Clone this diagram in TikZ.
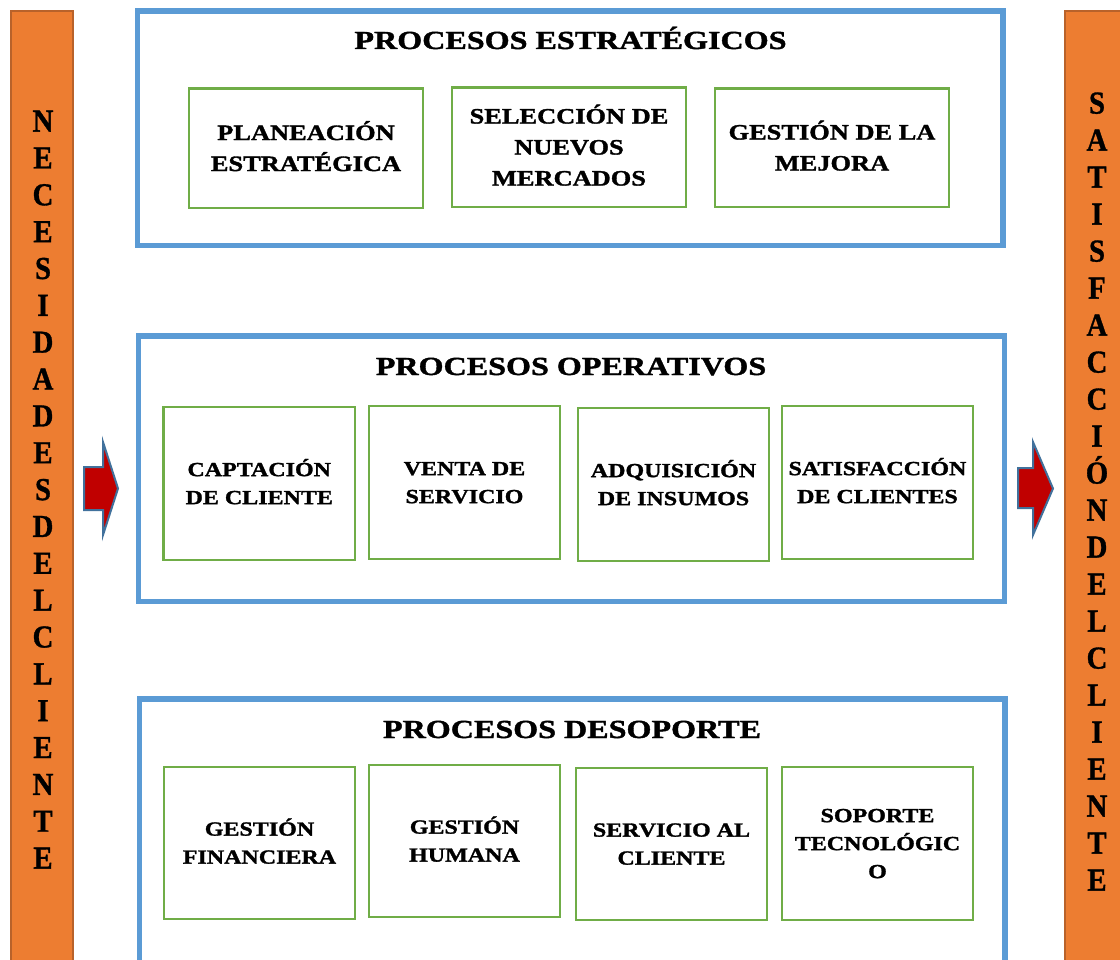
\documentclass[tikz,border=0pt]{standalone}
\usepackage{fontspec}
\newfontfamily\procfont{Liberation Serif Bold}[FakeStretch=1.2,FakeBold=1.5]
\newfontfamily\titlefont{Liberation Serif Bold}[FakeStretch=1.235,FakeBold=1.5]
\newfontfamily\sidefont{Liberation Serif Bold}[FakeStretch=0.9,FakeBold=1]
\definecolor{barorange}{HTML}{ED7D31}
\definecolor{baredge}{HTML}{B9622A}
\definecolor{frameblue}{HTML}{5B9BD5}
\definecolor{boxgreen}{HTML}{70AD47}
\definecolor{arrowred}{HTML}{C00000}
\definecolor{arrowedge}{HTML}{41719C}
% invisible rules that balance a text block around its capital letters
\newcommand\topstrut{\rule{0pt}{1.1em}}
\newcommand\botstrut{\rule[-0.438em]{0pt}{0.438em}}
\begin{document}
\begin{tikzpicture}[x=1pt,y=-1pt,
  sidebar/.style={fill=barorange,draw=baredge,line width=2pt},
  sidetext/.style={inner sep=0pt,align=center,font={\sidefont\fontsize{32}{#1}\selectfont}},
  frame/.style={draw=frameblue,line width=5.5pt},
  frametitle/.style={anchor=base,inner sep=0pt,font={\titlefont\fontsize{26}{30}\selectfont}},
  procbox/.style={draw=boxgreen,line width=2.5pt,inner sep=0pt,outer sep=0pt,align=center},
  bigtext/.style={font={\procfont\fontsize{22}{31}\selectfont}},
  smalltext/.style={font={\procfont\fontsize{20}{28}\selectfont}},
  flowarrow/.style={fill=arrowred,draw=arrowedge,line width=2pt,line join=miter}]
\useasboundingbox (0,0) rectangle (1120,960);
\clip (0,0) rectangle (1120,960);

% side bars: customer needs in, customer satisfaction out
\draw[sidebar] (11,11) rectangle (73,975);
\draw[sidebar] (1065,11) rectangle (1135,975);
\node[sidetext=36.85] (needs) at (43,489.5) {\topstrut N\\E\\C\\E\\S\\I\\D\\A\\D\\E\\S\\D\\E\\L\\C\\L\\I\\E\\N\\T\\E\botstrut};
\node[sidetext=37] (satisf) at (1097,491.5) {\topstrut S\\A\\T\\I\\S\\F\\A\\C\\C\\I\\Ó\\N\\D\\E\\L\\C\\L\\I\\E\\N\\T\\E\botstrut};

% arrows between the bars and the operative processes
\draw[flowarrow] (84,467) -- (103,467) -- (103,442) -- (118,488.5) -- (103,535) -- (103,510) -- (84,510) -- cycle;
\draw[flowarrow] (1018,468) -- (1033,468) -- (1033,442) -- (1053,488.5) -- (1033,535) -- (1033,508) -- (1018,508) -- cycle;

% process groups
\draw[frame] (137.5,11) rectangle (1003,245.7);
\draw[frame] (138.5,336) rectangle (1004.7,601.3);
\draw[frame] (139.3,698.8) rectangle (1005,990);

\node[frametitle] (tstrat) at (570.5,49) {PROCESOS ESTRATÉGICOS};
\node[frametitle] (toper) at (571,375) {PROCESOS OPERATIVOS};
\node[frametitle] (tsop) at (572,738) {PROCESOS DESOPORTE};

% strategic processes
\node[procbox,bigtext,minimum width=234pt,minimum height=119.5pt] (e1) at (306,148.25)
  {\topstrut PLANEACIÓN\\ESTRATÉGICA\botstrut};
\node[procbox,bigtext,minimum width=234pt,minimum height=119.5pt] (e2) at (569,147.25)
  {\topstrut SELECCIÓN DE\\NUEVOS\\MERCADOS\botstrut};
\node[procbox,bigtext,minimum width=234pt,minimum height=118.5pt] (e3) at (832,147.75)
  {\topstrut GESTIÓN DE LA\\MEJORA\botstrut};

% operative processes
\node[procbox,smalltext,minimum width=191.5pt,minimum height=153pt] (o1) at (259.25,483.5)
  {\topstrut CAPTACIÓN\\DE CLIENTE\botstrut};
\node[procbox,smalltext,minimum width=191pt,minimum height=153pt] (o2) at (464.5,482.5)
  {\topstrut VENTA DE\\SERVICIO\botstrut};
\node[procbox,smalltext,minimum width=191pt,minimum height=153pt] (o3) at (673.5,484.5)
  {\topstrut ADQUISICIÓN\\DE INSUMOS\botstrut};
\node[procbox,smalltext,minimum width=191pt,minimum height=153pt] (o4) at (877.5,482.5)
  {\topstrut SATISFACCIÓN\\DE CLIENTES\botstrut};

% support processes
\node[procbox,smalltext,minimum width=191pt,minimum height=152pt] (s1) at (259.5,843)
  {\topstrut GESTIÓN\\FINANCIERA\botstrut};
\node[procbox,smalltext,minimum width=191pt,minimum height=152pt] (s2) at (464.5,841)
  {\topstrut GESTIÓN\\HUMANA\botstrut};
\node[procbox,smalltext,minimum width=191pt,minimum height=152pt] (s3) at (671.5,844)
  {\topstrut SERVICIO AL\\CLIENTE\botstrut};
\node[procbox,smalltext,minimum width=191pt,minimum height=153pt] (s4) at (877.5,843.5)
  {\topstrut SOPORTE\\TECNOLÓGIC\\O\botstrut};
\end{tikzpicture}
\end{document}
